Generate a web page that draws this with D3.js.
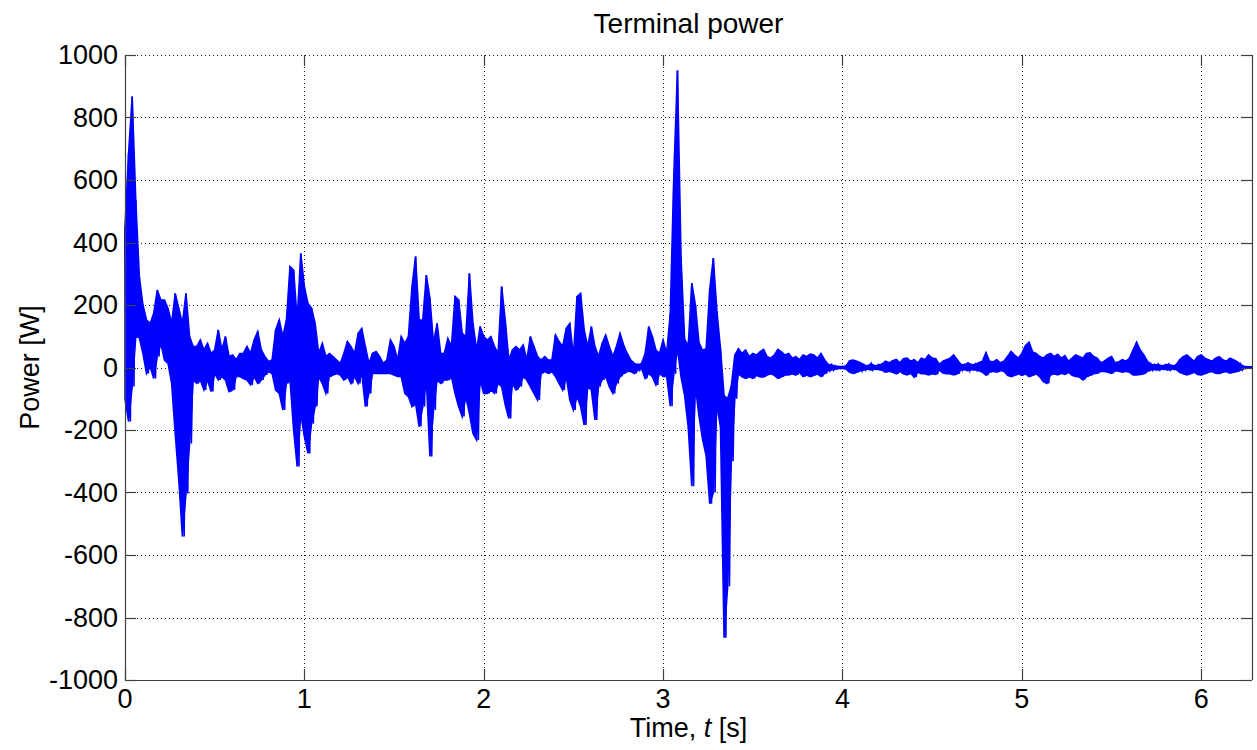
<!DOCTYPE html>
<html>
<head>
<meta charset="utf-8">
<script src="https://cdn.jsdelivr.net/npm/d3@7"></script>
<style>
  html, body { margin: 0; padding: 0; background: #fff; }
  svg { display: block; font-family: "Liberation Sans", Arial, sans-serif; }
</style>
</head>
<body>
<svg id="chart" width="1257" height="750"></svg>
<script>
// ---- data ----
const title = "Terminal power";
const yLabel = "Power [W]";
const xTicks = [0, 1, 2, 3, 4, 5, 6];
const yTicks = [-1000, -800, -600, -400, -200, 0, 200, 400, 600, 800, 1000];
const xMax = 6.2832;           // end of the time axis (2*pi s)
const sampleStep = 0.02;       // seconds between envelope samples
// upper envelope of the power signal [W], one value per 0.02 s from t = 0
const upperEnvelope = [
  450, 685, 867, 536, 290, 200, 152, 141, 173, 248,
  216, 216, 189, 141, 237, 189, 141, 237, 99, 67,
  67, 88, 56, 77, 45, 56, 120, 56, 99, 35,
  40, 24, 45, 45, 67, 45, 88, 115, 56, 35,
  19, 24, 120, 152, 99, 152, 323, 312, 152, 365,
  259, 205, 190, 141, 45, 77, 35, 45, 35, 24,
  13, 45, 83, 67, 45, 109, 125, 67, 13, 45,
  51, 35, 13, 24, 88, 67, 24, 99, 77, 99,
  259, 355, 152, 152, 296, 221, 77, 141, 45, 45,
  93, 67, 227, 216, 109, 99, 301, 141, 56, 131,
  99, 88, 99, 67, 45, 259, 150, 24, 56, 67,
  56, 72, 24, 99, 67, 35, 24, 35, 24, 24,
  104, 83, 67, 125, 141, 35, 227, 237, 120, 67,
  131, 67, 35, 77, 104, 67, 35, 67, 109, 72,
  45, 24, 13, 8, 13, 45, 131, 99, 56, 45,
  88, 45, 173, 620, 950, 350, 90, 70, 270, 200,
  80, 55, 60, 250, 350, 180, 60, -90, -100, -60,
  40, 60, 45, 56, 35, 45, 40, 50, 58, 35,
  30, 40, 58, 50, 40, 45, 30, 35, 25, 40,
  35, 43, 40, 30, 45, 25, 10, 8, 5, 3,
  3, 5, 22, 24, 20, 15, 8, 5, 12, 5,
  8, 10, 20, 15, 22, 26, 15, 28, 30, 20,
  25, 15, 30, 25, 40, 30, 28, 10, 20, 25,
  30, 40, 25, 10, 8, 15, 8, 10, 15, 20,
  48, 20, 18, 25, 15, 20, 35, 51, 40, 30,
  45, 70, 81, 50, 45, 35, 30, 40, 45, 35,
  42, 30, 38, 20, 30, 40, 35, 30, 45, 47,
  35, 30, 15, 20, 29, 35, 15, 18, 25, 20,
  30, 56, 81, 56, 40, 20, 10, 8, 10, 5,
  8, 10, 5, 8, 25, 35, 40, 30, 20, 35,
  40, 30, 25, 20, 30, 35, 25, 20, 30, 25,
  19, 10, 3, 2, 2
];
// lower envelope of the power signal [W], same sampling
const lowerEnvelope = [
  -100, -173, -61, 99, 95, 45, -19, 3, -35, 35,
  77, 24, 13, -51, -211, -360, -541, -403, -243, -40,
  -51, -40, -72, -40, -77, -19, -40, -29, -40, -77,
  -72, -29, -29, -35, -40, -56, -29, -51, -40, -24,
  -13, -19, -72, -83, -136, -51, -40, -200, -317, -147,
  -221, -275, -180, -125, -29, -51, -83, -29, -24, -19,
  -24, -40, -29, -51, -29, -51, -19, -125, -83, -19,
  -19, -19, -19, -19, -19, -24, -29, -29, -83, -93,
  -125, -115, -189, -125, -40, -285, -136, -40, -51, -40,
  -40, -29, -83, -125, -157, -93, -147, -211, -232, -40,
  -83, -83, -72, -83, -51, -61, -120, -163, -51, -72,
  -61, -29, -40, -61, -83, -104, -19, -13, -19, -13,
  -29, -51, -72, -29, -104, -136, -93, -125, -184, -61,
  -72, -168, -61, -40, -29, -61, -83, -51, -29, -19,
  -13, -13, -19, -8, -3, -35, -19, -29, -56, -19,
  -29, -29, -124, -20, 60, -30, -90, -190, -380, -60,
  -155, -230, -283, -436, -400, -118, -192, -865, -700, -300,
  -100, -20, -30, -35, -30, -35, -25, -30, -30, -24,
  -20, -25, -35, -30, -24, -24, -20, -24, -15, -29,
  -24, -29, -25, -20, -29, -20, -10, -8, -5, -3,
  -3, -5, -15, -19, -15, -10, -8, -5, -8, -5,
  -6, -8, -15, -12, -15, -20, -12, -20, -24, -18,
  -31, -15, -20, -20, -24, -20, -22, -8, -18, -20,
  -20, -24, -20, -8, -6, -10, -6, -8, -10, -15,
  -25, -15, -12, -15, -10, -12, -25, -29, -25, -20,
  -25, -20, -29, -25, -20, -30, -45, -51, -24, -20,
  -24, -18, -22, -15, -25, -29, -30, -40, -30, -25,
  -20, -18, -12, -13, -15, -19, -10, -12, -15, -12,
  -15, -24, -24, -22, -20, -12, -8, -6, -8, -5,
  -6, -8, -5, -6, -15, -20, -24, -20, -15, -22,
  -24, -20, -15, -13, -18, -19, -15, -13, -18, -15,
  -13, -8, -3, -2, -2
];

// ---- layout ----
const svg = d3.select("#chart");
const L = 125, R = 1252, T = 55, B = 680;
const x = d3.scaleLinear().domain([0, xMax]).range([L, R]);
const y = d3.scaleLinear().domain([-1000, 1000]).range([B, T]);
const tickLen = 11;
const axisColor = "#404040";
const fontSize = 27;

svg.append("rect").attr("width", 1257).attr("height", 750).attr("fill", "#fff");

// grid
const grid = svg.append("g").attr("stroke", "#222").attr("stroke-width", 1)
  .attr("stroke-dasharray", "1,3").attr("fill", "none");
xTicks.forEach(t => {
  grid.append("line").attr("x1", Math.round(x(t)) + 0.5).attr("x2", Math.round(x(t)) + 0.5)
    .attr("y1", T).attr("y2", B);
});
yTicks.forEach(v => {
  grid.append("line").attr("x1", L).attr("x2", R)
    .attr("y1", Math.round(y(v)) + 0.5).attr("y2", Math.round(y(v)) + 0.5);
});

// signal: dense oscillation drawn as the band between its envelopes
const samples = upperEnvelope.map((u, i) => ({
  t: Math.min(i * sampleStep, xMax), hi: u, lo: lowerEnvelope[i]
}));
const band = d3.area().x(d => x(d.t)).y0(d => y(d.lo)).y1(d => y(d.hi));
svg.append("path").datum(samples)
  .attr("d", band)
  .attr("fill", "#0000ff")
  .attr("stroke", "#0000ff")
  .attr("stroke-width", 1.6)
  .attr("stroke-linejoin", "miter");
// zig-zag trace inside the band
const pts = [];
samples.forEach((d, i) => {
  pts.push([d.t, d.hi]);
  pts.push([Math.min(d.t + sampleStep / 2, xMax), d.lo]);
});
svg.append("path").datum(pts)
  .attr("d", d3.line().x(d => x(d[0])).y(d => y(d[1])))
  .attr("fill", "none").attr("stroke", "#0000ff").attr("stroke-width", 1.6);

// axes (bottom, left, right solid; ticks inward on all four sides)
const ax = svg.append("g").attr("stroke", axisColor).attr("stroke-width", 1.2).attr("fill", "none");
ax.append("line").attr("x1", L).attr("x2", R).attr("y1", B + 0.5).attr("y2", B + 0.5);
ax.append("line").attr("x1", L + 0.5).attr("x2", L + 0.5).attr("y1", T).attr("y2", B);
ax.append("line").attr("x1", R + 0.5).attr("x2", R + 0.5).attr("y1", T).attr("y2", B);
xTicks.forEach(t => {
  const px = Math.round(x(t)) + 0.5;
  ax.append("line").attr("x1", px).attr("x2", px).attr("y1", B).attr("y2", B - tickLen);
  ax.append("line").attr("x1", px).attr("x2", px).attr("y1", T).attr("y2", T + tickLen);
});
yTicks.forEach(v => {
  const py = Math.round(y(v)) + 0.5;
  ax.append("line").attr("x1", L).attr("x2", L + tickLen).attr("y1", py).attr("y2", py);
  ax.append("line").attr("x1", R).attr("x2", R - tickLen).attr("y1", py).attr("y2", py);
});

// tick labels
const lab = svg.append("g").attr("font-size", fontSize).attr("fill", "#000");
xTicks.forEach(t => {
  lab.append("text").attr("x", x(t)).attr("y", B + 28).attr("text-anchor", "middle").text(t);
});
yTicks.forEach(v => {
  lab.append("text").attr("x", L - 7).attr("y", y(v)).attr("dy", "0.35em")
    .attr("text-anchor", "end").text(v);
});

// title
svg.append("text").attr("x", (L + R) / 2).attr("y", 33).attr("text-anchor", "middle")
  .attr("font-size", 28).text(title);

// x label with italic t
const xl = svg.append("text").attr("x", (L + R) / 2).attr("y", 737).attr("text-anchor", "middle")
  .attr("font-size", fontSize);
xl.append("tspan").text("Time, ");
xl.append("tspan").attr("font-style", "italic").text("t");
xl.append("tspan").text(" [s]");

// y label
svg.append("text").attr("transform", `translate(39,${(T + B) / 2}) rotate(-90)`)
  .attr("text-anchor", "middle").attr("font-size", fontSize).text(yLabel);
</script>
</body>
</html>
